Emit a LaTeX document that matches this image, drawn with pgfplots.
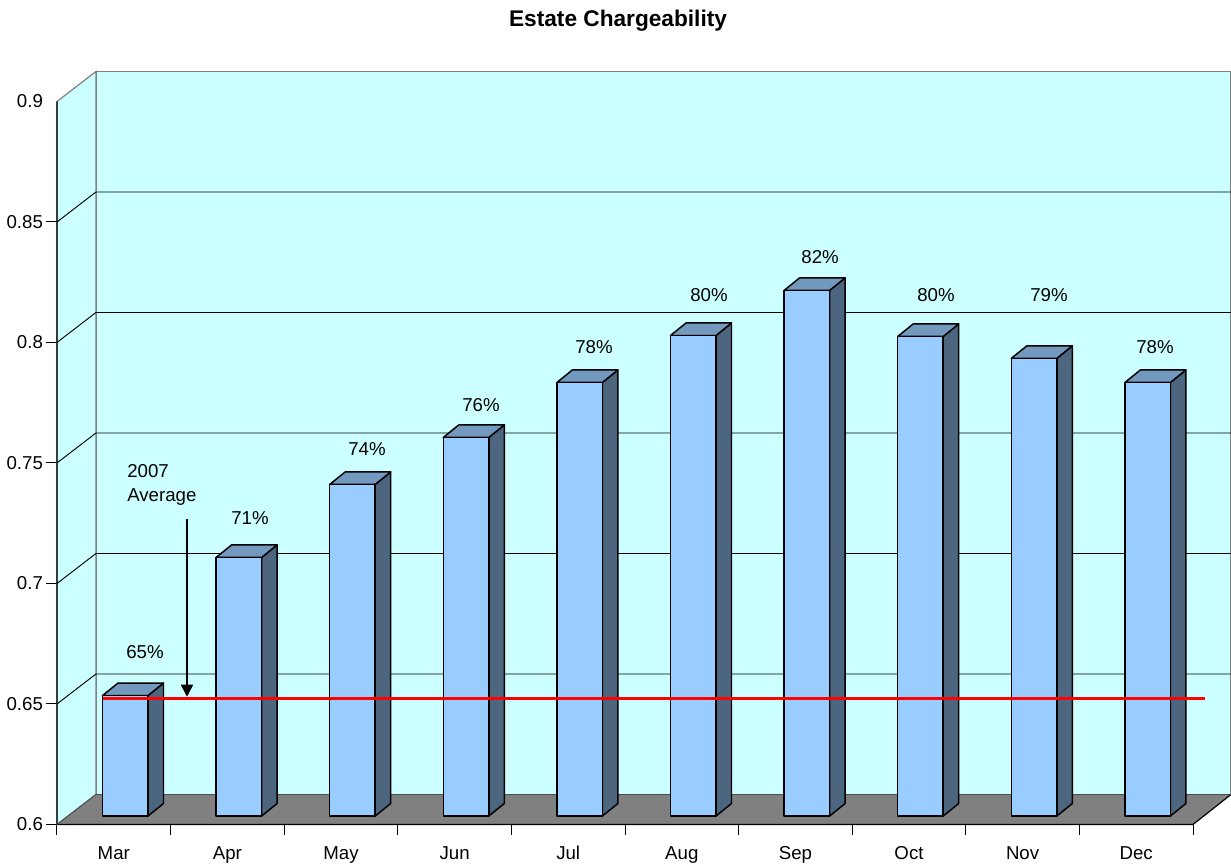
\documentclass[border=0pt]{standalone}
\usepackage{fontspec}
\setmainfont{Liberation Sans}
\usepackage{pgfplots}
\pgfplotsset{compat=1.18}
\usetikzlibrary{arrows.meta}

\definecolor{wall}{HTML}{CCFFFF}
\definecolor{floorgrey}{HTML}{808080}
\definecolor{edgegrey}{HTML}{808080}
\definecolor{barfront}{HTML}{99CCFF}
\definecolor{bartop}{HTML}{7399BF}
\definecolor{barside}{HTML}{4C6680}

% one 3d column: category index, value
\newcommand{\drawbar}[2]{
  \pgfmathsetmacro\xl{#1+0.4005}
  \pgfmathsetmacro\xr{#1+0.8010}
  \pgfmathsetmacro\xd{#1+0.9375}
  \pgfmathsetmacro\xe{#1+0.5370}
  \pgfmathsetmacro\yt{#2+0.0035}
  \pgfmathsetmacro\yu{#2+0.0087}
  \addplot[fill=barside,draw=black,line width=1.1pt,line join=round,forget plot]
    coordinates {(\xr,0.6035) (\xd,0.6087) (\xd,\yu) (\xr,\yt)} --cycle;
  \addplot[fill=bartop,draw=black,line width=1.1pt,line join=round,forget plot]
    coordinates {(\xl,\yt) (\xe,\yu) (\xd,\yu) (\xr,\yt)} --cycle;
  \addplot[fill=barfront,draw=black,line width=1.1pt,line join=round,forget plot]
    coordinates {(\xl,0.6035) (\xr,0.6035) (\xr,\yt) (\xl,\yt)} --cycle;
}

\begin{document}
\begin{tikzpicture}
\useasboundingbox (0,0) rectangle (923.25pt,648.75pt);
\begin{axis}[
    at={(42.75pt,30.4pt)},
    anchor=south west,
    scale only axis,
    width=880.5pt,
    height=564.75pt,
    xmin=0, xmax=10.3345,
    ymin=0.6, ymax=0.91245,
    clip=false,
    axis line style={draw=none},
    tick align=outside,
    tick pos=left,
    major tick length=8.25pt,
    tick style={black,line width=0.75pt},
    xtick={0,1,2,3,4,5,6,7,8,9,10},
    xticklabels={Mar,Apr,May,Jun,Jul,Aug,Sep,Oct,Nov,Dec},
    x tick label as interval,
    ytick={0.6,0.65,0.7,0.75,0.8,0.85},
    extra y ticks={0.9},
    extra tick style={tick style={draw=none}},
    scaled y ticks=false,
    /pgf/number format/fixed,
    /pgf/number format/precision=2,
    /pgf/number format/assume math mode=true,
    tick label style={font=\fontsize{14}{16}\selectfont,black},
    xticklabel style={yshift=-4.5pt,text height=10pt,text depth=3pt},
    yticklabel style={xshift=1.2pt},
    title={\textbf{Estate Chargeability}},
    title style={at={(0.4779,1)},anchor=center,yshift=32.25pt,
        font=\fontsize{17}{20}\selectfont},
]

% walls and floor
\addplot[fill=wall,draw=edgegrey,line width=0.9pt,forget plot]
    coordinates {(0.3433,0.61245) (10.3345,0.61245) (10.3345,0.91245) (0.3433,0.91245)} --cycle;
\addplot[fill=wall,draw=edgegrey,line width=0.9pt,forget plot]
    coordinates {(0,0.6) (0,0.9) (0.3433,0.91245) (0.3433,0.61245)} --cycle;

% gridlines
\addplot[black,line width=0.7pt,forget plot] coordinates {(0,0.65) (0.3433,0.66245) (10.3345,0.66245)};
\addplot[black,line width=0.7pt,forget plot] coordinates {(0,0.70) (0.3433,0.71245) (10.3345,0.71245)};
\addplot[black,line width=0.7pt,forget plot] coordinates {(0,0.75) (0.3433,0.76245) (10.3345,0.76245)};
\addplot[black,line width=0.7pt,forget plot] coordinates {(0,0.80) (0.3433,0.81245) (10.3345,0.81245)};
\addplot[black,line width=0.7pt,forget plot] coordinates {(0,0.85) (0.3433,0.86245) (10.3345,0.86245)};

\addplot[fill=floorgrey,draw=none,forget plot]
    coordinates {(0,0.6) (10,0.6) (10.3345,0.61245) (0.3433,0.61245)} --cycle;
\addplot[black,line width=0.9pt,forget plot]
    coordinates {(0,0.9) (0,0.6) (10,0.6) (10.3345,0.61245)};
\addplot[black!70,line width=0.7pt,forget plot]
    coordinates {(0,0.6) (0.3433,0.61245) (10.3345,0.61245)};

% columns
\drawbar{0}{0.6500}
\drawbar{1}{0.7073}
\drawbar{2}{0.7376}
\drawbar{3}{0.7571}
\drawbar{4}{0.7799}
\drawbar{5}{0.7994}
\drawbar{6}{0.8181}
\drawbar{7}{0.7990}
\drawbar{8}{0.7899}
\drawbar{9}{0.7799}

% 2007 average
\addplot[red,line width=2pt,forget plot]
    coordinates {(0.4049,0.6523) (10.1056,0.6523)};
\addplot[black,line width=1.1pt,-{Triangle[length=9pt,width=9pt]},forget plot]
    coordinates {(1.1444,0.7266) (1.1444,0.6530)};
\node[anchor=north west,align=left,inner sep=0pt,
    font=\fontsize{14}{18}\selectfont]
    at (axis cs:0.6162,0.7494) {2007\\Average};

% percentage labels
\addplot[only marks,mark=none,forget plot,
    point meta=explicit symbolic,
    nodes near coords={\pgfplotspointmeta\%},
    nodes near coords style={anchor=center,inner sep=0pt,
        font=\fontsize{14}{16}\selectfont},
] table[meta=label] {
x y label
0.7746 0.6714 65
1.6990 0.7270 71
2.7290 0.7556 74
3.7320 0.7739 76
4.7270 0.7979 78
5.7390 0.8195 80
6.7170 0.8353 82
7.7380 0.8195 80
8.7320 0.8195 79
9.6650 0.7979 78
};

\end{axis}
\end{tikzpicture}
\end{document}
